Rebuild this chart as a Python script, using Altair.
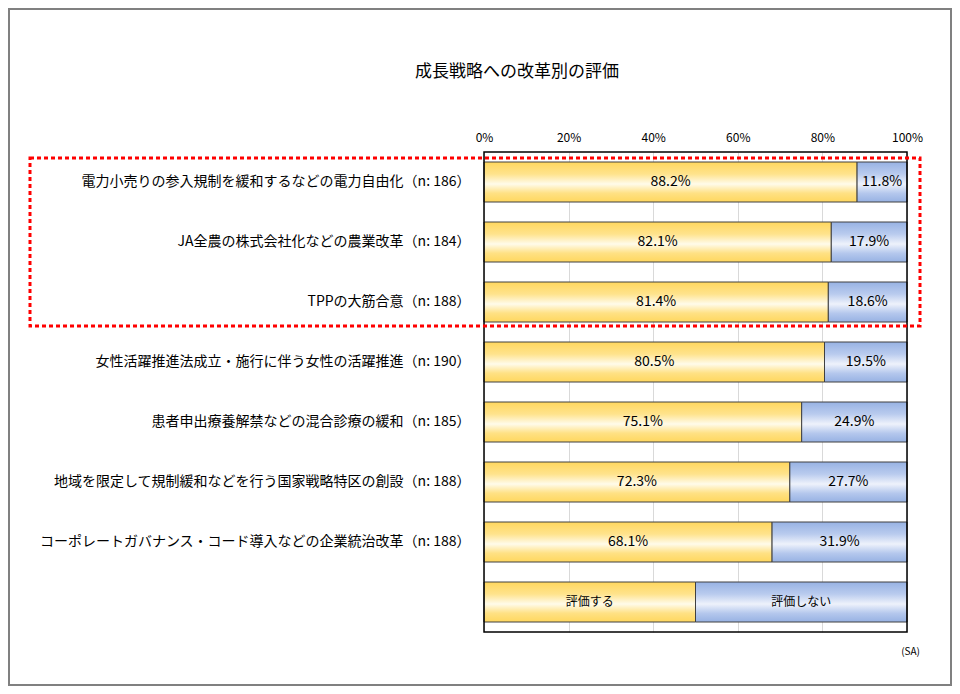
import altair as alt
import pandas as pd

title_text = "成長戦略への改革別の評価"
categories = [
    "電力小売りの参入規制を緩和するなどの電力自由化（n: 186）",
    "JA全農の株式会社化などの農業改革（n: 184）",
    "TPPの大筋合意（n: 188）",
    "女性活躍推進法成立・施行に伴う女性の活躍推進（n: 190）",
    "患者申出療養解禁などの混合診療の緩和（n: 185）",
    "地域を限定して規制緩和などを行う国家戦略特区の創設（n: 188）",
    "コーポレートガバナンス・コード導入などの企業統治改革（n: 188）",
]
hyouka_suru = [88.2, 82.1, 81.4, 80.5, 75.1, 72.3, 68.1]
hyouka_shinai = [11.8, 17.9, 18.6, 19.5, 24.9, 27.7, 31.9]
series_names = ["評価する", "評価しない"]
legend_key = "凡例"
x_ticks = [0, 20, 40, 60, 80, 100]

rows = []
for c, a, b in zip(categories, hyouka_suru, hyouka_shinai):
    rows.append({"cat": c, "yes": a, "no": b, "lab_yes": f"{a:.1f}%", "lab_no": f"{b:.1f}%", "fs": 14})
rows.append({"cat": legend_key, "yes": 50, "no": 50, "lab_yes": series_names[0], "lab_no": series_names[1], "fs": 12})
df = pd.DataFrame(rows)
order = categories + [legend_key]

yellow = alt.Gradient(
    gradient="linear", x1=0, y1=0, x2=0, y2=1,
    stops=[
        alt.GradientStop(offset=0, color="#FFD75E"),
        alt.GradientStop(offset=0.3, color="#FFE38C"),
        alt.GradientStop(offset=0.55, color="#FFFBEA"),
        alt.GradientStop(offset=0.78, color="#FFE184"),
        alt.GradientStop(offset=1, color="#FFD75E"),
    ],
)
blue = alt.Gradient(
    gradient="linear", x1=0, y1=0, x2=0, y2=1,
    stops=[
        alt.GradientStop(offset=0, color="#97B2E3"),
        alt.GradientStop(offset=0.3, color="#B9CBEE"),
        alt.GradientStop(offset=0.55, color="#EEF2FB"),
        alt.GradientStop(offset=0.78, color="#B5C8ED"),
        alt.GradientStop(offset=1, color="#97B2E3"),
    ],
)

y_enc = alt.Y(
    "cat:N", sort=order, title=None,
    scale=alt.Scale(domain=order, paddingInner=1/3, paddingOuter=1/6),
    axis=alt.Axis(
        labelExpr=f"datum.label == '{legend_key}' ? '' : datum.label",
        labelFontSize=14, labelPadding=14, ticks=False, domain=False,
        labelColor="#000000", labelLimit=600,
    ),
)
x_scale = alt.Scale(domain=[0, 100], nice=False)
x_axis = alt.Axis(
    orient="top", values=x_ticks, labelExpr="datum.value + '%'",
    labelFontSize=12, labelColor="#000000", ticks=False, domain=False,
    labelPadding=8, grid=True, gridColor="#D9D9D9", gridWidth=1,
    labelFlush=False,
)

base = alt.Chart(df).transform_calculate(total="datum.yes + datum.no",
                                         mid_yes="datum.yes / 2",
                                         mid_no="datum.yes + datum.no / 2")

bar_yes = base.mark_bar(color=yellow, stroke="#404040", strokeWidth=1).encode(
    x=alt.X("yes:Q", scale=x_scale, axis=x_axis, title=None),
    y=y_enc,
)
bar_no = base.mark_bar(color=blue, stroke="#404040", strokeWidth=1).encode(
    x=alt.X("yes:Q", scale=x_scale),
    x2="total:Q",
    y=alt.Y("cat:N", sort=order),
)
txt_yes = base.mark_text(color="#000000", fontWeight="normal").encode(
    x="mid_yes:Q", y=alt.Y("cat:N", sort=order), text="lab_yes:N",
    size=alt.Size("fs:Q", scale=None, legend=None),
)
txt_no = base.mark_text(color="#000000", fontWeight="normal").encode(
    x="mid_no:Q", y=alt.Y("cat:N", sort=order), text="lab_no:N",
    size=alt.Size("fs:Q", scale=None, legend=None),
)

ann = pd.DataFrame({"t": ["(SA)"], "title": [title_text]})
sa = alt.Chart(ann).mark_text(align="right", fontSize=10, color="#000000").encode(
    x=alt.value(436), y=alt.value(500), text="t:N"
)
ttl = alt.Chart(ann).mark_text(align="center", baseline="middle", fontSize=17, color="#000000").encode(
    x=alt.value(33), y=alt.value(-80), text="title:N"
)
box = alt.Chart(ann).mark_rect(
    filled=False, stroke="#FF0000", strokeWidth=3, strokeDash=[4, 3]
).encode(x=alt.value(-454), x2=alt.value(436), y=alt.value(6), y2=alt.value(174))
plot_frame = alt.Chart(ann).mark_rect(
    filled=False, stroke="#000000", strokeWidth=1.5
).encode(x=alt.value(0), x2=alt.value(423), y=alt.value(0), y2=alt.value(480))
frame = alt.Chart(ann).mark_rect(
    filled=False, stroke="#808080", strokeWidth=2
).encode(x=alt.value(-475), x2=alt.value(467), y=alt.value(-143), y2=alt.value(533))

chart = alt.layer(bar_yes, bar_no, txt_yes, txt_no, plot_frame, box, sa, ttl, frame).properties(
    width=423, height=480,
    autosize=alt.AutoSizeParams(type="none"),
    padding={"left": 476, "top": 144, "right": 45, "bottom": 54},
).configure(font="Noto Sans CJK JP").configure_view(stroke=None)

chart.save("out.html", embed_options={"renderer": "svg", "actions": False})
